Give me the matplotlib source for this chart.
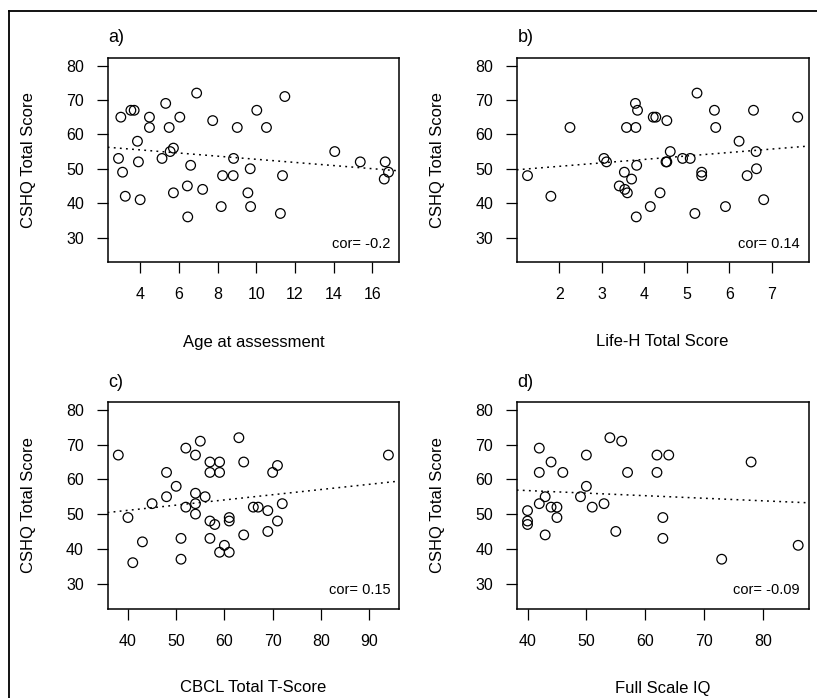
import numpy as np
import matplotlib
matplotlib.use("Agg")
import matplotlib.pyplot as plt
from matplotlib.lines import Line2D

plt.rcParams['font.family'] = ['Liberation Sans', 'DejaVu Sans']

# ---- data ----
# a) Age at assessment vs CSHQ
age = [2.88, 3.0, 3.09, 3.23, 3.52, 3.69, 3.86, 3.91, 4.0, 4.48, 4.48, 5.13, 5.32, 5.5,
       5.55, 5.72, 5.72, 6.05, 6.44, 6.46, 6.61, 6.92, 7.23, 7.75, 8.19, 8.26, 8.81, 8.83,
       9.02, 9.57, 9.69, 9.71, 10.03, 10.53, 11.25, 11.36, 11.48, 14.06, 15.38, 16.67,
       16.62, 16.84]
cshq_age = [53, 65, 49, 42, 67, 67, 58, 52, 41, 65, 62, 53, 69, 62,
            55, 56, 43, 65, 45, 36, 51, 72, 44, 64, 39, 48, 48, 53,
            62, 43, 50, 39, 67, 62, 37, 48, 71, 55, 52, 52,
            47, 49]

# b) Life-H total score vs CSHQ
lifeh = [1.25, 1.80, 2.25, 3.05, 3.11, 3.41, 3.53, 3.54, 3.60, 3.58, 3.70, 3.79, 3.80,
         3.82, 3.81, 3.84, 4.14, 4.21, 4.27, 4.37, 4.53, 4.51, 4.53, 4.61, 4.90, 5.08,
         5.19, 5.24, 5.35, 5.35, 5.65, 5.68, 5.91, 6.23, 6.42, 6.57, 6.64, 6.63, 6.81, 7.61]
cshq_lifeh = [48, 42, 62, 53, 52, 45, 49, 44, 43, 62, 47, 69, 62,
              51, 36, 67, 39, 65, 65, 43, 64, 52, 52, 55, 53, 53,
              37, 72, 49, 48, 67, 62, 39, 58, 48, 67, 50, 55, 41, 65]

# c) CBCL total T-score vs CSHQ
cbcl = [38, 40, 41, 43, 45, 48, 48, 50, 51, 51, 52, 52, 54, 54, 54, 54, 55, 56, 57, 57,
        57, 57, 58, 59, 59, 59, 60, 61, 61, 61, 63, 64, 64, 66, 67, 69, 69, 70, 71, 71,
        72, 94]
cshq_cbcl = [67, 49, 36, 42, 53, 62, 55, 58, 43, 37, 69, 52, 67, 56, 53, 50, 71, 55, 65, 62,
             48, 43, 47, 65, 62, 39, 41, 49, 48, 39, 72, 65, 44, 52, 52, 51, 45, 62, 64, 48,
             53, 67]

# d) Full scale IQ vs CSHQ
iq = [40, 40, 40, 42, 42, 42, 43, 43, 44, 44, 45, 45, 46, 49, 50, 50, 51, 53, 54, 55,
      56, 57, 62, 62, 63, 63, 64, 73, 78, 86]
cshq_iq = [51, 48, 47, 69, 62, 53, 55, 44, 65, 52, 52, 49, 62, 55, 67, 58, 52, 53, 72, 45,
           71, 62, 67, 62, 49, 43, 67, 37, 65, 41]

letters = ['a)', 'b)', 'c)', 'd)']
xlabels = ['Age at assessment', 'Life-H Total Score', 'CBCL Total T-Score', 'Full Scale IQ']
cor_labels = ['cor= -0.2', 'cor= 0.14', 'cor= 0.15', 'cor= -0.09']
xticks = [[4, 6, 8, 10, 12, 14, 16], [2, 3, 4, 5, 6, 7],
          [40, 50, 60, 70, 80, 90], [40, 50, 60, 70, 80]]
yticks = [30, 40, 50, 60, 70, 80]

panels = [(age, cshq_age), (lifeh, cshq_lifeh), (cbcl, cshq_cbcl), (iq, cshq_iq)]

W, H = 817, 698
fig = plt.figure(figsize=(W / 100, H / 100), dpi=100)

# axes boxes in pixels: left, right, top, bottom
boxes = [(107.7, 399.3, 58, 262.3), (516.7, 808.5, 58, 262.3),
         (107.5, 399.2, 402.3, 608.5), (516.7, 809.0, 402.3, 608.5)]
xlab_y = [342, 342, 688, 688]

for i, ((x, y), (l, r, t, b)) in enumerate(zip(panels, boxes)):
    ax = fig.add_axes([l / W, 1 - b / H, (r - l) / W, (b - t) / H])
    x = np.array(x, dtype=float)
    y = np.array(y, dtype=float)
    ax.scatter(x, y, s=48, facecolors='none', edgecolors='black', linewidths=0.9, zorder=3)
    ax.margins(x=0.04)
    ax.set_ylim(22.8, 82.2)
    xmin, xmax = ax.get_xlim()
    # least squares line, drawn across the panel like abline()
    k, c0 = np.polyfit(x, y, 1)
    xx = np.array([xmin, xmax])
    ax.plot(xx, k * xx + c0, color='black', linestyle=(0, (1.2, 2.8)), linewidth=1.1)
    ax.set_xlim(xmin, xmax)

    ax.set_xticks(xticks[i])
    ax.set_yticks(yticks)
    ax.tick_params(axis='both', direction='out', length=8, width=0.9, labelsize=11.5, colors='black')
    ax.tick_params(axis='x', pad=10)
    ax.tick_params(axis='y', pad=9)
    for s in ax.spines.values():
        s.set_linewidth(1.1)

    ax.text(1 - 9 / (r - l), 0.09, cor_labels[i], transform=ax.transAxes,
            ha='right', va='center', fontsize=10.5)

    fig.text((l - 79.4) / W, 1 - ((t + b) / 2) / H, 'CSHQ Total Score', rotation=90,
             ha='center', va='center', fontsize=12)
    fig.text(((l + r) / 2) / W, 1 - xlab_y[i] / H, xlabels[i], ha='center', va='center', fontsize=12)
    fig.text((l + 1) / W, 1 - (t - 20) / H, letters[i], ha='left', va='center', fontsize=13)

# outer frame (top and left edges visible in the reference)
fig.add_artist(Line2D([9 / W, 9 / W], [0, 1 - 11 / H], color='black', linewidth=1.3))
fig.add_artist(Line2D([9 / W, 1], [1 - 11 / H, 1 - 11 / H], color='black', linewidth=1.3))

fig.savefig('out.png', dpi=100)
